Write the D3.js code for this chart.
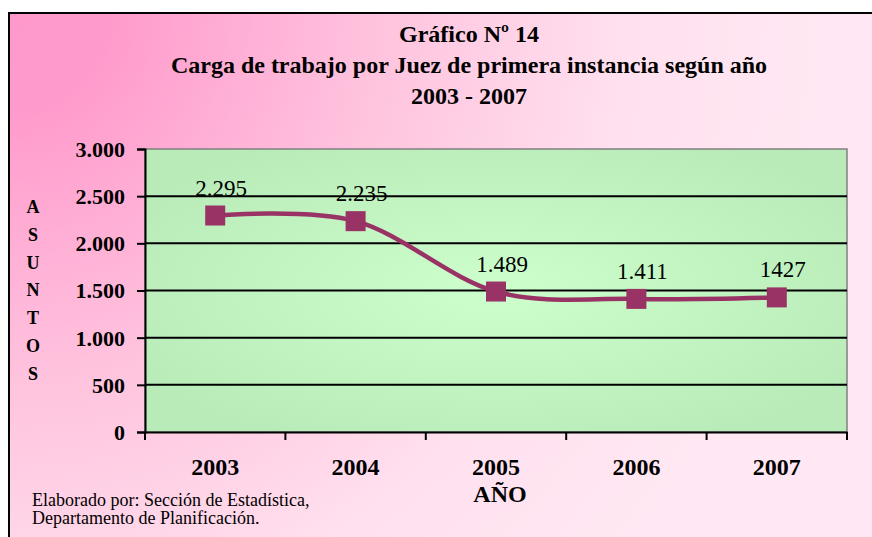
<!DOCTYPE html>
<html>
<head>
<meta charset="utf-8">
<script src="https://cdn.jsdelivr.net/npm/d3@7"></script>
<style>
  html, body { margin: 0; padding: 0; background: #ffffff; }
  svg { display: block; }
  text { font-family: "Liberation Serif", "Times New Roman", serif; }
</style>
</head>
<body>
<svg id="chart"></svg>
<script>
// [A] Datos ------------------------------------------------------------------
const years = ["2003", "2004", "2005", "2006", "2007"];
const asuntos = [2295, 2235, 1489, 1411, 1427];
const valueLabels = ["2.295", "2.235", "1.489", "1.411", "1427"];
const yTicks = [0, 500, 1000, 1500, 2000, 2500, 3000];
const titleLines = ["Gráfico Nº 14", "Carga de trabajo por Juez de primera instancia según año", "2003 - 2007"];
const yTitle = "ASUNTOS";
const xTitle = "AÑO";
const footnote = ["Elaborado por: Sección de Estadística,", "Departamento de Planificación."];

// [B] Configuración ----------------------------------------------------------
const width = 872;
const height = 537;
const plot = { left: 145, right: 847, top: 149, bottom: 432 };
const lineColor = "#993366";
const serif = '"Liberation Serif", "Times New Roman", serif';

const svg = d3.select("#chart")
    .attr("width", width)
    .attr("height", height);

const defs = svg.append("defs");

// Degradado rosa desde la esquina superior izquierda
const pink = defs.append("radialGradient")
    .attr("id", "pinkBg")
    .attr("gradientUnits", "userSpaceOnUse")
    .attr("cx", 9).attr("cy", 13).attr("r", 820);
[[0, "#ff99cc"], [0.12, "#ff9bcc"], [0.45, "#ffc3de"], [0.75, "#ffe0ee"], [1, "#ffe8f3"]]
    .forEach(([o, c]) => pink.append("stop").attr("offset", o).attr("stop-color", c));

// Degradado verde desde el centro
const green = defs.append("radialGradient")
    .attr("id", "greenBg")
    .attr("cx", 0.5).attr("cy", 0.5).attr("r", 0.6);
[[0, "#ccffcc"], [0.35, "#c6f8c6"], [1, "#b9ebb9"]]
    .forEach(([o, c]) => green.append("stop").attr("offset", o).attr("stop-color", c));

// [C] Marco del gráfico ------------------------------------------------------
svg.append("rect")
    .attr("x", 9).attr("y", 13)
    .attr("width", width + 20).attr("height", height + 20)
    .attr("fill", "url(#pinkBg)")
    .attr("stroke", "#000")
    .attr("stroke-width", 2);

// [D] Escalas ----------------------------------------------------------------
const x = d3.scaleBand()
    .domain(years)
    .range([plot.left, plot.right]);

const y = d3.scaleLinear()
    .domain([0, 3000])
    .range([plot.bottom, plot.top]);

// Área del gráfico
svg.append("rect")
    .attr("x", plot.left).attr("y", plot.top)
    .attr("width", plot.right - plot.left)
    .attr("height", plot.bottom - plot.top)
    .attr("fill", "url(#greenBg)")
    .attr("stroke", "#808080")
    .attr("stroke-width", 1.5);

// Líneas de división
svg.append("g")
    .selectAll("line")
    .data(yTicks.filter(d => d > 0 && d < 3000))
    .join("line")
    .attr("x1", plot.left).attr("x2", plot.right)
    .attr("y1", d => y(d)).attr("y2", d => y(d))
    .attr("stroke", "#000")
    .attr("stroke-width", 2);

// [E] Ejes -------------------------------------------------------------------
const yAxis = svg.append("g")
    .attr("transform", `translate(${plot.left},0)`)
    .call(d3.axisLeft(y)
        .tickValues(yTicks)
        .tickSize(8)
        .tickPadding(12)
        .tickFormat(d => d3.format(",")(d).replace(/,/g, ".")));

const xAxis = svg.append("g")
    .attr("transform", `translate(0,${plot.bottom})`)
    .call(d3.axisBottom(x).tickSize(0).tickPadding(26));

// Marcas entre categorías
xAxis.selectAll("line.sep")
    .data(d3.range(years.length + 1))
    .join("line")
    .attr("class", "sep")
    .attr("x1", i => plot.left + i * x.step())
    .attr("x2", i => plot.left + i * x.step())
    .attr("y1", 0).attr("y2", 8)
    .attr("stroke", "#000")
    .attr("stroke-width", 2);

[yAxis, xAxis].forEach(g => {
    g.attr("font-family", null);
    g.select(".domain").attr("stroke", "#000").attr("stroke-width", 2);
    g.selectAll(".tick line").attr("stroke", "#000").attr("stroke-width", 2);
    g.selectAll(".tick text")
        .attr("fill", "#000")
        .style("font-family", serif)
        .style("font-weight", "bold");
});
yAxis.selectAll(".tick text").style("font-size", "22px").attr("dy", "0.34em");
xAxis.selectAll(".tick text").style("font-size", "24px");

// [F] Serie ------------------------------------------------------------------
const points = years.map((yr, i) => ({ year: yr, value: asuntos[i], label: valueLabels[i] }));
const cx = d => x(d.year) + x.bandwidth() / 2;

svg.append("path")
    .datum(points)
    .attr("fill", "none")
    .attr("stroke", lineColor)
    .attr("stroke-width", 4.5)
    .attr("d", d3.line().x(cx).y(d => y(d.value)).curve(d3.curveCardinal.tension(0)));

const markerSize = 20;
svg.append("g")
    .selectAll("rect")
    .data(points)
    .join("rect")
    .attr("x", d => cx(d) - markerSize / 2)
    .attr("y", d => y(d.value) - markerSize / 2)
    .attr("width", markerSize)
    .attr("height", markerSize)
    .attr("fill", lineColor);

svg.append("g")
    .selectAll("text")
    .data(points)
    .join("text")
    .attr("x", d => cx(d) + 6)
    .attr("y", d => y(d.value) - 20)
    .attr("text-anchor", "middle")
    .style("font-family", serif)
    .style("font-size", "23px")
    .attr("fill", "#000")
    .text(d => d.label);

// [G] Títulos ----------------------------------------------------------------
svg.append("g")
    .selectAll("text")
    .data(titleLines)
    .join("text")
    .attr("x", 469)
    .attr("y", (d, i) => 42 + i * 31)
    .attr("text-anchor", "middle")
    .style("font-family", serif)
    .style("font-size", "24px")
    .style("font-weight", "bold")
    .text(d => d);

svg.append("g")
    .selectAll("text")
    .data(yTitle.split(""))
    .join("text")
    .attr("x", 33)
    .attr("y", (d, i) => 213 + i * 27.8)
    .attr("text-anchor", "middle")
    .style("font-family", serif)
    .style("font-size", "18px")
    .style("font-weight", "bold")
    .text(d => d);

svg.append("text")
    .attr("x", 500)
    .attr("y", 502)
    .attr("text-anchor", "middle")
    .style("font-family", serif)
    .style("font-size", "24px")
    .style("font-weight", "bold")
    .text(xTitle);

svg.append("g")
    .selectAll("text")
    .data(footnote)
    .join("text")
    .attr("x", 32)
    .attr("y", (d, i) => 506 + i * 18)
    .style("font-family", serif)
    .style("font-size", "18px")
    .text(d => d);
</script>
</body>
</html>
